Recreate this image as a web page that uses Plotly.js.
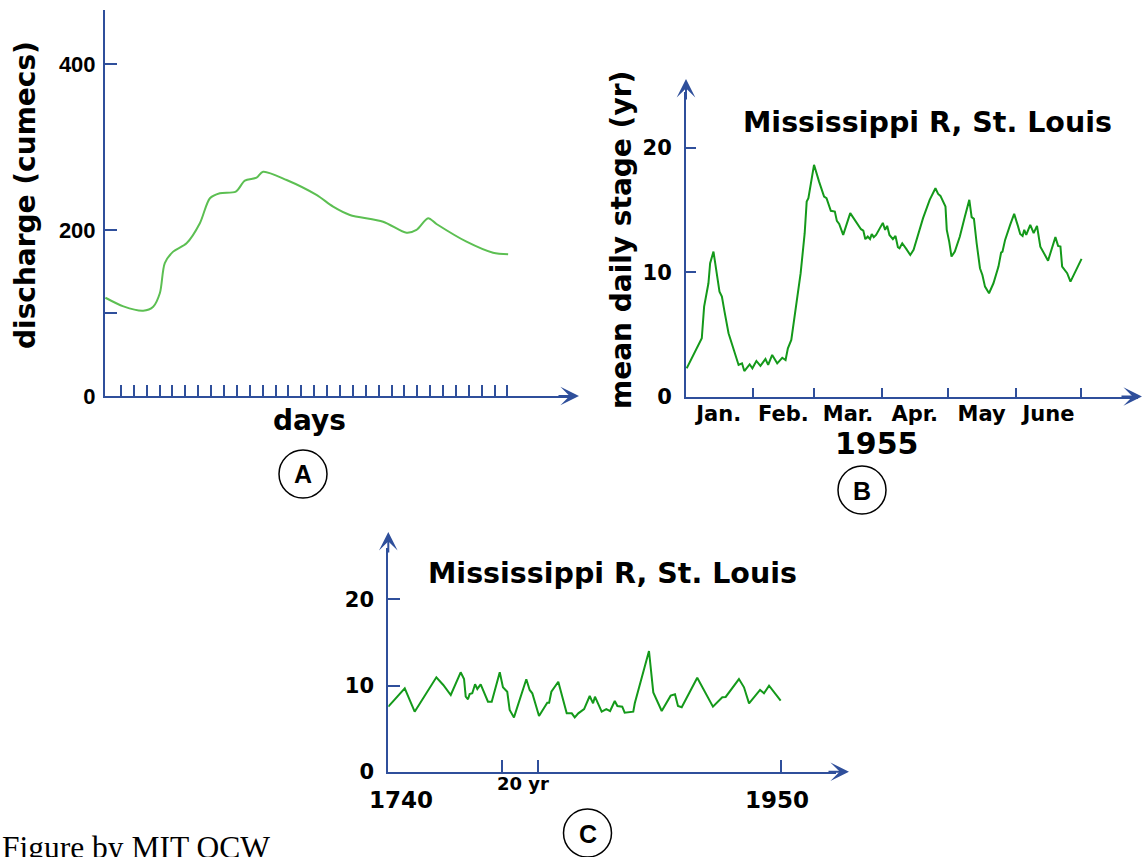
<!DOCTYPE html>
<html>
<head>
<meta charset="utf-8">
<script src="https://cdn.plot.ly/plotly-3.0.1.min.js"></script>
<style>
  html, body { margin: 0; padding: 0; background: #ffffff; }
  #chart { width: 1143px; height: 857px; }
</style>
</head>
<body>
<div id="chart"></div>
<script>
// ---------------- DATA ----------------
// Panel A: hydrograph, discharge (cumecs) vs days
const daysA = [-0.2, 1.2, 2.73, 3.51, 4.03, 4.41, 5.06, 6.10, 7.13, 7.91, 8.68, 9.92, 10.62, 11.53, 12.04, 13.86, 16.18, 17.47, 18.77, 21.35, 23.17, 23.94, 24.84, 25.49, 27.82, 29.88, 31.05];
const dischargeA = [118.4, 108, 102.8, 107.6, 124.1, 160.2, 173.9, 184.0, 208.1, 238.2, 244.2, 246.1, 259.4, 263.0, 270.2, 260.2, 242.2, 228.1, 218.1, 210.0, 196.7, 200.0, 214.1, 207.2, 185.9, 172.6, 170.7];
const yTicksA = [0, 100, 200, 400];
const yTickTextA = ['0', '', '200', '400'];
const dayTickCountA = 31;

// Panel B: mean daily stage, Mississippi R at St. Louis, Jan-June 1955 (x = day of year)
const daysB = [0.87, 7.76, 8.82, 10.79, 11.57, 13.09, 15.84, 16.94, 18.14, 19.97, 24.56, 26.12, 27.18, 29.61, 30.85, 32.69, 34.53, 36.82, 38.06, 39.9, 42.19, 44.49, 46.0, 47.06, 48.62, 50.6, 52.89, 54.73, 55.65, 56.43, 59.0, 61.3, 63.59, 64.69, 66.67, 68.5, 69.42, 70.48, 72.31, 75.53, 80.44, 81.5, 82.42, 83.52, 84.57, 85.35, 86.27, 87.33, 90.4, 91.46, 92.38, 93.43, 95.0, 96.19, 97.29, 98.02, 99.27, 101.1, 102.94, 104.45, 108.77, 111.8, 114.42, 115.66, 116.71, 119.01, 119.6, 120.71, 121.76, 123.28, 125.57, 127.87, 129.89, 130.95, 132.0, 133.24, 134.76, 135.86, 137.05, 138.89, 140.91, 143.2, 144.4, 145.04, 146.23, 148.53, 150.37, 152.07, 153.12, 154.22, 154.96, 155.88, 157.71, 159.27, 160.79, 162.31, 164.6, 165.84, 169.19, 170.43, 171.49, 172.27, 174.56, 176.08, 181.13];
const stageB = [2.27, 4.69, 7.23, 9.11, 10.72, 11.66, 8.44, 8.04, 6.83, 5.09, 2.54, 2.67, 2.05, 2.59, 2.27, 2.86, 2.46, 3.02, 2.54, 3.34, 2.67, 3.12, 2.94, 3.88, 4.55, 6.96, 9.92, 13.14, 15.68, 15.96, 18.64, 17.29, 16.09, 15.96, 14.94, 14.88, 14.13, 13.89, 13.0, 14.75, 13.46, 13.35, 12.66, 12.87, 12.66, 13.06, 12.82, 13.0, 13.97, 13.41, 13.73, 13.0, 12.66, 12.92, 12.01, 11.93, 12.33, 11.88, 11.39, 11.8, 14.35, 15.82, 16.76, 16.3, 16.14, 15.28, 13.41, 12.46, 11.26, 11.66, 12.87, 14.48, 15.82, 14.43, 14.29, 12.33, 10.32, 9.78, 8.84, 8.31, 9.11, 10.45, 11.58, 11.66, 12.6, 13.81, 14.69, 13.73, 13.08, 12.92, 13.41, 13.0, 13.81, 13.14, 13.73, 12.06, 11.39, 10.93, 12.82, 12.12, 12.06, 10.45, 9.92, 9.24, 11.07];
const monthNamesB = ['Jan.', 'Feb.', 'Mar.', 'Apr.', 'May', 'June'];
const monthLengthsB = [31, 28, 31, 30, 31, 30];
const yTicksB = [0, 10, 20];

// Panel C: annual stage, Mississippi R at St. Louis, 1740-1950
const yearsC = [1740, 1748.8, 1754.1, 1765.7, 1769.4, 1773.4, 1778.7, 1780.5, 1781.4, 1782.6, 1783.5, 1784.9, 1786.4, 1787.6, 1789.4, 1793.3, 1795.3, 1799.6, 1801.3, 1803.6, 1804.9, 1807.2, 1813.8, 1815.6, 1817.0, 1820.6, 1825.0, 1826.0, 1827.2, 1830.9, 1835.4, 1838.1, 1839.7, 1841.6, 1844.7, 1847.7, 1849.5, 1850.5, 1854.1, 1856.6, 1858.6, 1861.1, 1862.5, 1865.1, 1866.4, 1871.0, 1871.8, 1879.4, 1881.7, 1886.2, 1891.0, 1893.3, 1894.9, 1896.9, 1905.2, 1913.6, 1918.6, 1920.4, 1927.5, 1930.2, 1932.9, 1938.8, 1940.9, 1943.6, 1949.8];
const stageC = [7.54, 9.67, 6.96, 10.95, 10.06, 8.9, 11.53, 10.75, 8.7, 8.4, 9.0, 9.1, 10.14, 9.6, 10.14, 8.12, 8.12, 11.53, 9.8, 9.28, 7.16, 6.3, 10.72, 9.48, 9.1, 6.46, 8.0, 8.0, 9.28, 10.44, 6.77, 6.77, 6.3, 6.77, 7.27, 8.78, 7.93, 8.7, 6.96, 7.27, 7.04, 8.2, 7.62, 7.54, 6.84, 6.96, 7.93, 14.0, 9.2, 7.04, 8.82, 8.98, 7.62, 7.47, 10.9, 7.54, 8.63, 8.67, 10.75, 9.79, 7.93, 9.48, 9.1, 9.98, 8.24];
const xTicksC = [1801, 1820, 1950];
const yTicksC = [0, 10, 20];

// ---------------- LAYOUT HELPERS ----------------
const W = 1143, H = 857;
const px = x => x / W;
const py = y => 1 - y / H;
const AXIS = '#2f4f9b';
const TITLE_FONT = { family: 'DejaVu Sans', size: 28, color: '#000', weight: 'bold' };

const dayTicksA = [];
for (let i = 1; i <= dayTickCountA; i++) dayTicksA.push(i);
const monthEndsB = [], monthMidsB = [];
let acc = 0;
monthLengthsB.forEach(l => { monthMidsB.push(acc + l / 2); acc += l; monthEndsB.push(acc); });

const baseAxis = {
  showline: true, linecolor: AXIS, linewidth: 2,
  showgrid: false, zeroline: false,
  ticks: 'inside', tickcolor: AXIS, tickwidth: 2,
  fixedrange: true
};

const traces = [
  { x: daysA, y: dischargeA, xaxis: 'x', yaxis: 'y', type: 'scatter', mode: 'lines',
    line: { color: '#5cbf52', width: 2, shape: 'spline', smoothing: 0.8 }, hoverinfo: 'skip' },
  { x: daysB, y: stageB, xaxis: 'x2', yaxis: 'y2', type: 'scatter', mode: 'lines',
    line: { color: '#14991a', width: 2 }, hoverinfo: 'skip' },
  { x: yearsC, y: stageC, xaxis: 'x4', yaxis: 'y3', type: 'scatter', mode: 'lines',
    line: { color: '#14991a', width: 2 }, hoverinfo: 'skip' },
  // invisible helper so the month-label overlay axis is drawn
  { x: [monthMidsB[0]], y: [null], xaxis: 'x3', yaxis: 'y2', type: 'scatter', mode: 'lines', hoverinfo: 'skip' }
];

function arrow(xTip, yTip, ax, ay) {
  return { xref: 'paper', yref: 'paper', x: px(xTip), y: py(yTip), ax: ax, ay: ay,
    showarrow: true, arrowhead: 3, arrowsize: 1.55, arrowwidth: 2, arrowcolor: AXIS, text: '', standoff: 0 };
}
function label(text, x, y, font, extra) {
  return Object.assign({ xref: 'paper', yref: 'paper', x: px(x), y: py(y), text: text,
    showarrow: false, xanchor: 'center', yanchor: 'middle', font: font }, extra || {});
}
function circle(cx, cy, r) {
  return { type: 'circle', xref: 'paper', yref: 'paper',
    x0: px(cx - r), x1: px(cx + r), y0: py(cy + r), y1: py(cy - r),
    line: { color: '#000', width: 1.5 } };
}
const letterFont = { family: 'Liberation Sans', size: 25, color: '#000', weight: 'bold' };
const titleBC = { family: 'DejaVu Sans', size: 28.5, color: '#000', weight: 'bold' };

const layout = {
  width: W, height: H,
  margin: { l: 0, r: 0, t: 0, b: 0 },
  paper_bgcolor: '#ffffff', plot_bgcolor: 'rgba(0,0,0,0)',
  showlegend: false,
  // Panel A
  xaxis: Object.assign({}, baseAxis, {
    domain: [px(105), px(570)], range: [-0.23, 35.85], anchor: 'y',
    tickvals: dayTicksA, ticklen: 11, showticklabels: false }),
  yaxis: Object.assign({}, baseAxis, {
    domain: [py(396), py(10)], range: [0, 465], anchor: 'x',
    tickvals: yTicksA, ticktext: yTickTextA, ticklen: 12, ticklabelstandoff: 3,
    tickfont: { family: 'Liberation Sans', size: 22, color: '#000', weight: 'bold' } }),
  // Panel B
  xaxis2: Object.assign({}, baseAxis, {
    domain: [px(686), px(1138)], range: [0.55, 206.9], anchor: 'y2',
    tickvals: monthEndsB, ticklen: 9, showticklabels: false }),
  xaxis3: {
    domain: [px(686), px(1138)], range: [0.55, 206.9], anchor: 'y2', overlaying: 'x2',
    showline: false, showgrid: false, zeroline: false, ticks: '', fixedrange: true,
    tickvals: monthMidsB, ticktext: monthNamesB, ticklabelstandoff: 2,
    tickfont: { family: 'DejaVu Sans', size: 21, color: '#000', weight: 'bold' } },
  yaxis2: Object.assign({}, baseAxis, {
    domain: [py(396.5), py(92)], range: [0, 24.5], anchor: 'x2',
    tickvals: yTicksB, ticklen: 10, ticklabelstandoff: 8,
    tickfont: { family: 'DejaVu Sans', size: 21, color: '#000', weight: 'bold' } }),
  // Panel C
  xaxis4: Object.assign({}, baseAxis, {
    domain: [px(388.3), px(836)], range: [1740, 1979.4], anchor: 'y3',
    tickvals: xTicksC, ticklen: 12, showticklabels: false }),
  yaxis3: Object.assign({}, baseAxis, {
    domain: [py(771.7), py(548)], range: [0, 25.95], anchor: 'x4',
    tickvals: yTicksC, ticklen: 12, ticklabelstandoff: 8,
    tickfont: { family: 'DejaVu Sans', size: 21, color: '#000', weight: 'bold' } }),
  shapes: [ circle(303, 474, 24), circle(862, 490, 24), circle(587.5, 833, 24) ],
  annotations: [
    // axis arrows
    arrow(579, 396, -22, 0),
    arrow(686, 79, 0, 22),
    arrow(1142, 396.5, -22, 0),
    arrow(388.3, 532, 0, 22),
    arrow(849, 771.7, -22, 0),
    // Panel A texts
    label('discharge (cumecs)', 25, 195, TITLE_FONT, { textangle: -90 }),
    label('days', 309, 421, TITLE_FONT),
    label('A', 303, 474.5, letterFont),
    // Panel B texts
    label('Mississippi R, St. Louis', 927, 123, titleBC),
    label('mean daily stage (yr)', 622, 240, TITLE_FONT, { textangle: -90 }),
    label('1955', 877, 443, { family: 'DejaVu Sans', size: 30, color: '#000', weight: 'bold' }),
    label('B', 862, 490.5, letterFont),
    // Panel C texts
    label('Mississippi R, St. Louis', 612, 573, titleBC),
    label('20 yr', 523, 783, { family: 'DejaVu Sans', size: 18, color: '#000', weight: 'bold' }),
    label('1740', 401, 800, { family: 'DejaVu Sans', size: 23, color: '#000', weight: 'bold' }),
    label('1950', 777, 800, { family: 'DejaVu Sans', size: 23, color: '#000', weight: 'bold' }),
    label('C', 587.5, 833.5, letterFont),
    // credit
    label('Figure by MIT OCW', 0, 847, { family: 'Liberation Serif', size: 31.5, color: '#000' }, { xanchor: 'left' })
  ]
};

Plotly.newPlot('chart', traces, layout, { staticPlot: true, displayModeBar: false });
</script>
</body>
</html>
